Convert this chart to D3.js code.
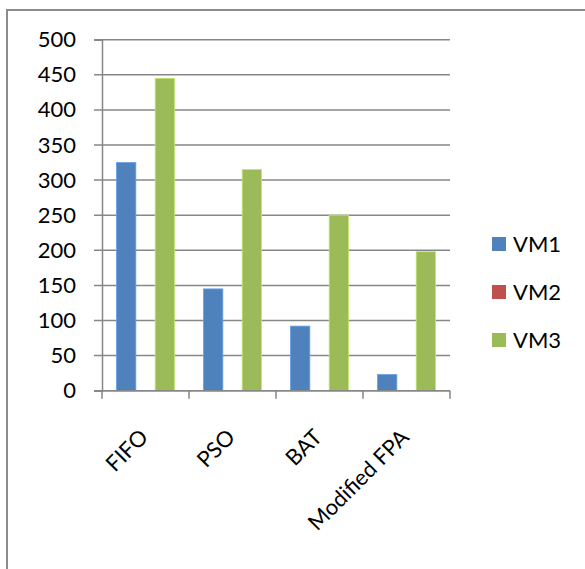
<!DOCTYPE html>
<html>
<head>
<script src="https://d3js.org/d3.v7.min.js"></script>
</head>
<body style="margin:0;background:#fff">
<svg class="chart" width="585" height="569"></svg>
<script>

// chart data
categories = ['FIFO', 'PSO', 'BAT', 'Modified FPA']
series = ['VM1', 'VM2', 'VM3']
vm1 = [325, 145, 92, 23]
vm2 = [0, 0, 0, 0]
vm3 = [445, 315, 250, 198]
yTicks = [0, 50, 100, 150, 200, 250, 300, 350, 400, 450, 500]
colors = ['#4f81bd', '#c0504d', '#9bbb59']

values = [vm1, vm2, vm3]

svg = d3.select('.chart')
font = 'Lato, "Open Sans", sans-serif'

// outer frame (only top and left show in the picture)
svg.append('path')
  .attr('d', 'M7,570 L7,10 L586,10')
  .attr('fill', 'none')
  .attr('stroke', '#8c8c8c')
  .attr('stroke-width', 2)

left = 102
right = 450
top_ = 39.7
bottom = 390.7

y = d3.scaleLinear().domain([0, 500]).range([bottom, top_])
x = d3.scaleBand().domain(categories).range([left, right])
xs = d3.scaleBand().domain(series).range([14.5, x.bandwidth() - 14.5])

// gridlines
svg.append('g')
  .selectAll('line')
  .data(yTicks)
  .join('line')
    .attr('x1', left - 8)
    .attr('x2', right)
    .attr('y1', d => y(d))
    .attr('y2', d => y(d))
    .attr('stroke', '#878787')
    .attr('stroke-width', 1.5)

// bars
groups = svg.append('g')
  .selectAll('g')
  .data(categories)
  .join('g')
    .attr('transform', d => `translate(${x(d)},0)`)

groups.selectAll('rect')
  .data((d, i) => series.map((s, j) => ({ s: s, v: values[j][i], c: colors[j] })))
  .join('rect')
    .attr('x', d => xs(d.s))
    .attr('width', xs.bandwidth())
    .attr('y', d => y(d.v))
    .attr('height', d => bottom - y(d.v))
    .attr('fill', d => d.c)
    .attr('stroke', d => d3.color(d.c).brighter(0.6))
    .attr('stroke-width', 0.8)

// y axis
yAxis = svg.append('g')
  .attr('transform', `translate(${left},0)`)
  .call(d3.axisLeft(y).tickValues(yTicks).tickSize(8).tickPadding(18))
yAxis.select('.domain').attr('stroke', '#878787').attr('stroke-width', 1.5)
yAxis.selectAll('.tick line').remove()
yAxis.selectAll('text')
  .attr('font-family', font)
  .attr('font-size', 22)
  .attr('fill', '#000')

// x axis: ticks sit on the category boundaries
svg.append('line')
  .attr('x1', left).attr('x2', right)
  .attr('y1', bottom).attr('y2', bottom)
  .attr('stroke', '#878787').attr('stroke-width', 1.5)

svg.append('g')
  .selectAll('line')
  .data(d3.range(categories.length + 1))
  .join('line')
    .attr('x1', i => left + i * x.step())
    .attr('x2', i => left + i * x.step())
    .attr('y1', bottom)
    .attr('y2', bottom + 8)
    .attr('stroke', '#878787')
    .attr('stroke-width', 1.5)

svg.append('g')
  .selectAll('text')
  .data(categories)
  .join('text')
    .attr('transform', d => `translate(${x(d) + x.bandwidth() / 2 - 7},${bottom + 37}) rotate(-45)`)
    .attr('text-anchor', 'end')
    .attr('dy', '0.7em')
    .attr('font-family', font)
    .attr('font-size', 22)
    .text(d => d)

// legend
legend = svg.append('g')
  .selectAll('g')
  .data(series)
  .join('g')
    .attr('transform', (d, i) => `translate(492,${237 + i * 48})`)

legend.append('rect')
  .attr('width', 14)
  .attr('height', 14)
  .attr('fill', (d, i) => colors[i])

legend.append('text')
  .attr('x', 21)
  .attr('y', 15)
  .attr('font-family', font)
  .attr('font-size', 22)
  .text(d => d)

</script>
</body>
</html>
